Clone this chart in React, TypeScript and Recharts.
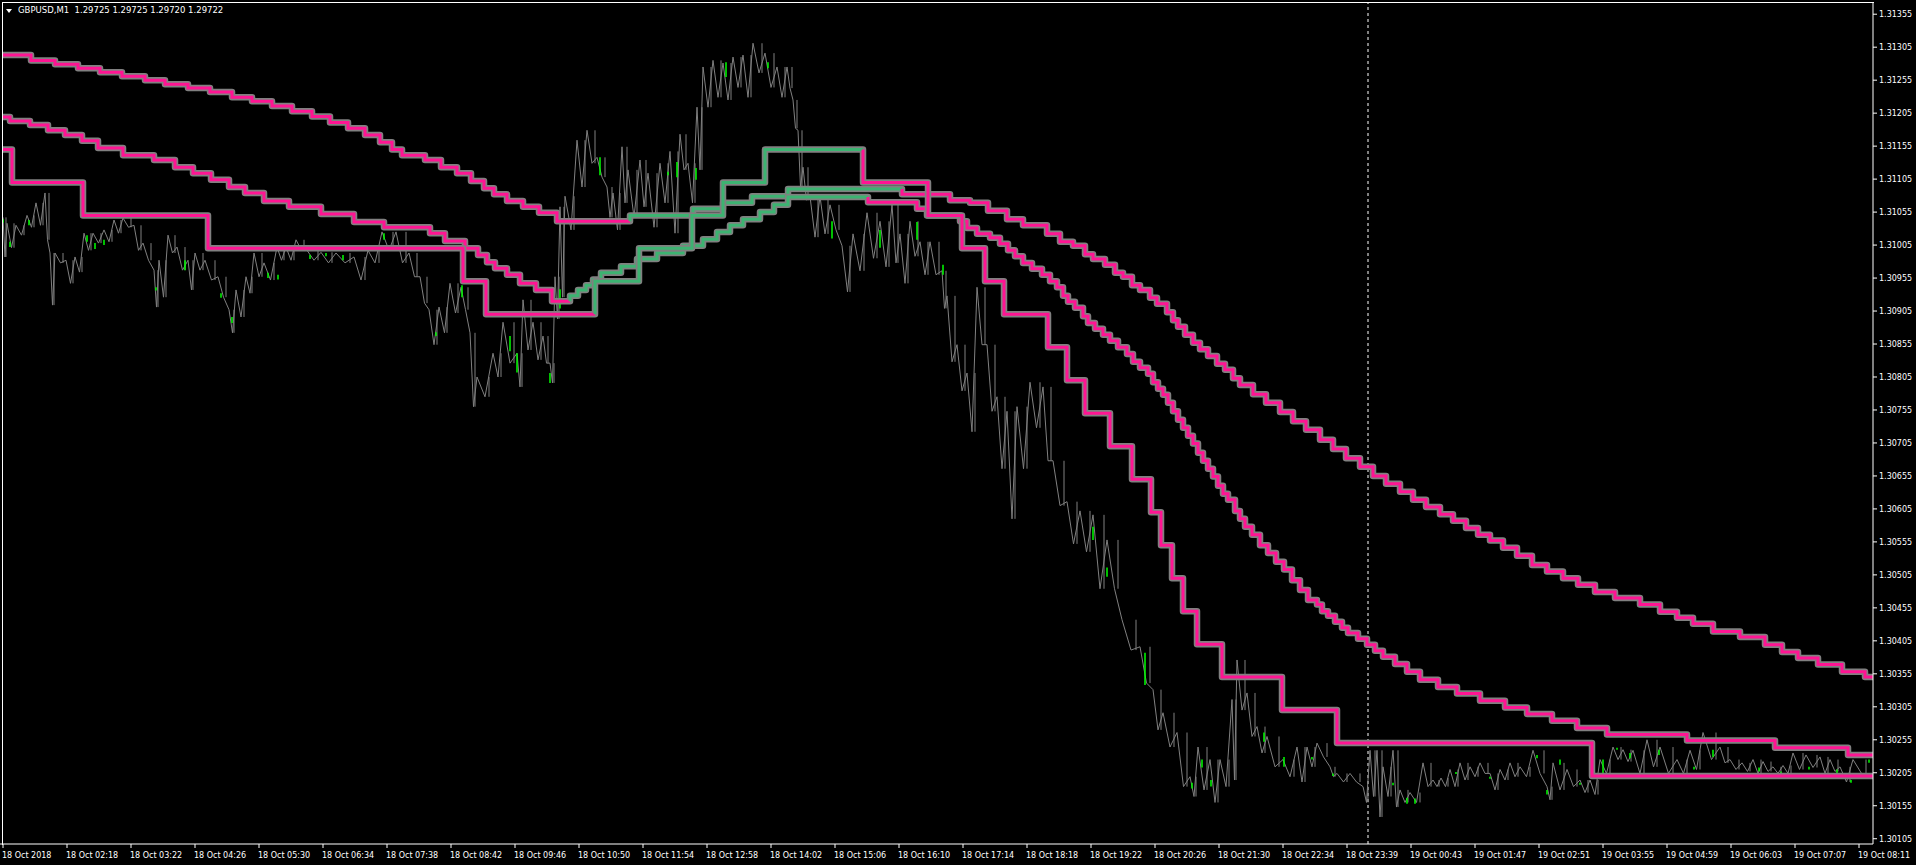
import React from 'react';
import { LineChart, Line, XAxis, YAxis, ReferenceLine } from 'recharts';

// GBPUSD M1, 18-19 Oct 2018. x = bar index (one pixel per M1 bar in the terminal)
const timeLabels = [
  '18 Oct 2018', '18 Oct 02:18', '18 Oct 03:22', '18 Oct 04:26', '18 Oct 05:30', '18 Oct 06:34',
  '18 Oct 07:38', '18 Oct 08:42', '18 Oct 09:46', '18 Oct 10:50', '18 Oct 11:54', '18 Oct 12:58',
  '18 Oct 14:02', '18 Oct 15:06', '18 Oct 16:10', '18 Oct 17:14', '18 Oct 18:18', '18 Oct 19:22',
  '18 Oct 20:26', '18 Oct 21:30', '18 Oct 22:34', '18 Oct 23:39', '19 Oct 00:43', '19 Oct 01:47',
  '19 Oct 02:51', '19 Oct 03:55', '19 Oct 04:59', '19 Oct 06:03', '19 Oct 07:07', '19 Oct 08:11',
];
const labelBars = [
  3, 67, 131, 195, 259, 323, 387, 451, 515, 579, 643, 707, 771, 835, 899,
  963, 1027, 1091, 1155, 1219, 1283, 1347, 1411, 1475, 1539, 1603, 1667, 1731, 1795, 1859,
];
const daySeparator = 1368; // 19 Oct 00:00

const priceTicks = [
  1.30105, 1.30155, 1.30205, 1.30255, 1.30305, 1.30355, 1.30405, 1.30455, 1.30505, 1.30555,
  1.30605, 1.30655, 1.30705, 1.30755, 1.30805, 1.30855, 1.30905, 1.30955, 1.31005, 1.31055,
  1.31105, 1.31155, 1.31205, 1.31255, 1.31305, 1.31355,
];

// price swings: [bar, high, low]
const priceAsia = [
  [3, 1.31047, 1.30987], [7, 1.31038, 1.31001], [16, 1.31035, 1.3102], [27, 1.3105, 1.31032],
  [36, 1.31069, 1.31035], [45, 1.31084, 1.31013], [50, 1.30993, 1.30914], [55, 1.30993, 1.30978],
  [66, 1.30982, 1.30947], [75, 1.30987, 1.30964], [84, 1.31023, 1.30997], [93, 1.31023, 1.31008],
  [104, 1.31028, 1.3101], [114, 1.31043, 1.31023], [123, 1.31046, 1.31032], [134, 1.31035, 1.30997],
  [143, 1.31008, 1.30982], [154, 1.30967, 1.30911], [159, 1.30982, 1.30926], [168, 1.3102, 1.30993],
  [177, 1.31002, 1.30967], [188, 1.30982, 1.30937], [195, 1.30993, 1.30967], [205, 1.30982, 1.30952],
  [218, 1.30957, 1.30926], [229, 1.30907, 1.30872], [236, 1.30937, 1.30896], [246, 1.30957, 1.30932],
  [254, 1.30993, 1.30957], [264, 1.30978, 1.30952], [277, 1.31002, 1.30982], [286, 1.31002, 1.30982],
  [296, 1.31013, 1.30997], [307, 1.30997, 1.30982], [321, 1.30994, 1.30978], [336, 1.30993, 1.30978],
  [354, 1.30987, 1.30952], [368, 1.30997, 1.30978], [382, 1.31025, 1.30997], [396, 1.31025, 1.30978],
  [409, 1.30993, 1.30957], [420, 1.30957, 1.30917], [429, 1.30907, 1.30854], [439, 1.30911, 1.30872],
  [450, 1.30947, 1.30902], [461, 1.30941, 1.30907],
];
const priceLondon = [
  [470, 1.30872, 1.3076], [477, 1.30805, 1.30775], [493, 1.30841, 1.30805], [503, 1.30888, 1.30826],
  [517, 1.30841, 1.3079], [523, 1.30922, 1.30846], [533, 1.30888, 1.30831], [543, 1.30867, 1.30826],
  [550, 1.30826, 1.30796], [555, 1.30957, 1.30893], [560, 1.31063, 1.30926], [565, 1.31079, 1.31028],
  [577, 1.31164, 1.31093], [587, 1.31179, 1.31129], [597, 1.31138, 1.31108], [607, 1.31093, 1.31047],
  [613, 1.31084, 1.31028], [622, 1.31154, 1.31069], [628, 1.31119, 1.31047], [640, 1.31134, 1.31063],
  [648, 1.31114, 1.31032], [660, 1.31129, 1.31069], [670, 1.31147, 1.31023], [680, 1.31173, 1.31119],
  [688, 1.31129, 1.31069], [697, 1.31214, 1.31119], [703, 1.31275, 1.31214], [713, 1.31285, 1.31229],
  [723, 1.31281, 1.31225], [733, 1.3129, 1.31244], [743, 1.31293, 1.31229], [753, 1.31311, 1.31266],
  [765, 1.31296, 1.31244], [777, 1.31275, 1.31229], [787, 1.31275, 1.31243], [793, 1.31225, 1.31182],
  [798, 1.31179, 1.31093],
];
const priceNewYork = [
  [803, 1.31123, 1.31073], [810, 1.31079, 1.31017], [820, 1.31079, 1.31022], [830, 1.31066, 1.31028],
  [842, 1.31004, 1.30934], [853, 1.31022, 1.30966], [867, 1.31054, 1.30985], [880, 1.31041, 1.30972],
  [892, 1.31066, 1.30978], [900, 1.31022, 1.30947], [910, 1.31041, 1.30988], [920, 1.3101, 1.3096],
  [930, 1.3101, 1.3096], [942, 1.30966, 1.30909], [947, 1.30928, 1.30828], [957, 1.30854, 1.30784],
  [967, 1.30811, 1.30722], [977, 1.30941, 1.30854], [987, 1.30854, 1.30753], [997, 1.30775, 1.30666],
  [1007, 1.30753, 1.3059], [1017, 1.3076, 1.30666], [1030, 1.30797, 1.30728], [1043, 1.3079, 1.30678],
  [1053, 1.30678, 1.3061], [1067, 1.30616, 1.30552], [1080, 1.30602, 1.3054], [1093, 1.30596, 1.30484],
  [1107, 1.30558, 1.30484], [1122, 1.30437, 1.30391], [1140, 1.30396, 1.30341], [1153, 1.30331, 1.3027],
  [1163, 1.30296, 1.30244], [1177, 1.30266, 1.30184], [1190, 1.30199, 1.30169], [1198, 1.30244, 1.30179],
  [1210, 1.30225, 1.3016], [1220, 1.30225, 1.30184], [1232, 1.30316, 1.30194],
];
const priceLate = [
  [1237, 1.30376, 1.303], [1247, 1.30326, 1.3026], [1257, 1.30275, 1.30235], [1267, 1.3026, 1.30214],
  [1283, 1.30225, 1.30199], [1297, 1.30244, 1.30191], [1307, 1.30244, 1.30214], [1317, 1.3025, 1.30229],
  [1330, 1.30214, 1.30199], [1337, 1.30204, 1.30191], [1350, 1.30204, 1.30191], [1363, 1.30184, 1.3016],
  [1370, 1.30239, 1.30169], [1377, 1.30239, 1.30138], [1383, 1.30214, 1.30169], [1393, 1.30239, 1.30153],
  [1400, 1.30179, 1.3016], [1410, 1.30175, 1.3016], [1423, 1.3022, 1.30184], [1433, 1.30194, 1.30184],
  [1441, 1.30197, 1.30184], [1450, 1.3021, 1.30184], [1460, 1.3022, 1.30194], [1470, 1.30214, 1.30199],
  [1480, 1.3022, 1.30204], [1490, 1.30204, 1.30179], [1500, 1.3021, 1.30194], [1510, 1.3022, 1.30199],
  [1520, 1.30214, 1.30199], [1533, 1.30239, 1.30204], [1547, 1.30184, 1.30164], [1553, 1.3022, 1.30179],
  [1567, 1.3021, 1.30184], [1580, 1.30194, 1.30175], [1590, 1.30194, 1.30172], [1600, 1.30225, 1.30204],
  [1613, 1.30244, 1.30225], [1623, 1.3024, 1.30222], [1633, 1.30239, 1.30204], [1647, 1.30255, 1.30214],
  [1660, 1.30244, 1.30204], [1677, 1.30225, 1.30204], [1690, 1.30239, 1.3021], [1703, 1.30266, 1.30225],
  [1720, 1.30244, 1.3022], [1730, 1.30225, 1.3021], [1742, 1.3022, 1.30207], [1753, 1.30225, 1.30204],
  [1763, 1.30222, 1.30207], [1773, 1.30214, 1.30204], [1783, 1.30216, 1.30204], [1793, 1.30235, 1.3021],
  [1806, 1.30232, 1.30213], [1820, 1.30229, 1.30204], [1830, 1.30225, 1.30207], [1840, 1.30214, 1.30191],
  [1853, 1.30225, 1.30204],
];

// bright up-bar flashes: [bar, high, low]
const upFlashes = [
  [3, 1.31044, 1.31039], [10, 1.3101, 1.31002], [29, 1.31043, 1.31035], [87, 1.3102, 1.3101],
  [95, 1.31008, 1.30999], [104, 1.31013, 1.31005], [156, 1.30941, 1.30936], [185, 1.30982, 1.30967],
  [221, 1.30932, 1.30925], [232, 1.30896, 1.30887], [268, 1.30963, 1.30955], [278, 1.3096, 1.30953],
  [310, 1.3099, 1.30984], [326, 1.30993, 1.30988], [343, 1.3099, 1.30982], [384, 1.31023, 1.31013],
  [436, 1.30873, 1.30867], [462, 1.30944, 1.30926], [510, 1.30867, 1.30844], [517, 1.30841, 1.30812],
  [550, 1.30811, 1.30796], [560, 1.30938, 1.30909], [600, 1.31138, 1.31111], [668, 1.31116, 1.31111],
  [677, 1.31131, 1.31108], [696, 1.31122, 1.31104], [726, 1.31282, 1.3126], [768, 1.31282, 1.31273],
  [832, 1.31041, 1.31015], [880, 1.31028, 1.31001], [917, 1.3104, 1.31013], [943, 1.30975, 1.3096],
  [1093, 1.30578, 1.30558], [1107, 1.30516, 1.30502], [1145, 1.30387, 1.30338], [1192, 1.3019, 1.30181],
  [1202, 1.30225, 1.30213], [1211, 1.30194, 1.30184], [1264, 1.30266, 1.30252], [1284, 1.30229, 1.30214],
  [1312, 1.30229, 1.30225], [1333, 1.30204, 1.302], [1393, 1.3019, 1.30186], [1407, 1.30167, 1.30158],
  [1415, 1.30166, 1.30158], [1456, 1.30206, 1.30203], [1490, 1.30199, 1.30196], [1537, 1.30232, 1.30227],
  [1547, 1.30179, 1.30172], [1560, 1.30225, 1.30217], [1580, 1.3019, 1.30187], [1603, 1.30225, 1.30204],
  [1617, 1.30243, 1.3024], [1630, 1.30235, 1.30227], [1659, 1.3024, 1.30232], [1694, 1.30214, 1.3021],
  [1713, 1.3024, 1.30229], [1759, 1.30213, 1.30207], [1781, 1.30207, 1.30203], [1809, 1.30214, 1.3021],
  [1837, 1.3021, 1.30204], [1851, 1.30194, 1.3019], [1869, 1.30225, 1.3022],
];

// stepped averages: [bar where level starts, level]
const slowMA = [
  [3, 1.31293], [31, 1.31285], [55, 1.31279], [78, 1.31273], [100, 1.31267], [122, 1.31261],
  [145, 1.31255], [165, 1.31249], [188, 1.31243], [210, 1.31237], [232, 1.31229], [252, 1.31223],
  [272, 1.31216], [292, 1.31208], [312, 1.312], [330, 1.31191], [348, 1.31182], [365, 1.31172],
  [380, 1.31161], [392, 1.3115], [402, 1.31141], [425, 1.31134], [441, 1.31123], [457, 1.31114],
  [471, 1.31102], [484, 1.31091], [494, 1.31082], [507, 1.31072], [523, 1.31063], [539, 1.31054],
  [557, 1.31041], [630, 1.3105], [693, 1.3106], [723, 1.31069], [752, 1.31079], [788, 1.3109],
  [902, 1.31082], [950, 1.31073], [970, 1.31069], [988, 1.31057], [1007, 1.31044], [1023, 1.31035],
  [1047, 1.31022], [1060, 1.3101], [1073, 1.31004], [1085, 1.30991], [1093, 1.30984], [1105, 1.30975],
  [1115, 1.30963], [1123, 1.30957], [1132, 1.30944], [1140, 1.30937], [1150, 1.30925], [1157, 1.30916],
  [1167, 1.30903], [1173, 1.30891], [1178, 1.30881], [1185, 1.30869], [1193, 1.30857], [1200, 1.30847],
  [1208, 1.30837], [1217, 1.30825], [1225, 1.30816], [1233, 1.30803], [1240, 1.30793], [1253, 1.30779],
  [1266, 1.30766], [1280, 1.30752], [1293, 1.30738], [1306, 1.30725], [1320, 1.3071], [1333, 1.30696],
  [1346, 1.30682], [1360, 1.30669], [1373, 1.30655], [1386, 1.30643], [1400, 1.30631], [1413, 1.30619],
  [1426, 1.30608], [1440, 1.30597], [1453, 1.30587], [1466, 1.30576], [1478, 1.30566], [1490, 1.30557],
  [1503, 1.30546], [1517, 1.30534], [1532, 1.3052], [1547, 1.3051], [1563, 1.305], [1578, 1.3049],
  [1595, 1.30479], [1615, 1.3047], [1640, 1.3046], [1660, 1.30449], [1677, 1.3044], [1693, 1.30431],
  [1713, 1.30419], [1740, 1.30411], [1765, 1.30399], [1782, 1.30388], [1798, 1.30379], [1818, 1.30369],
  [1842, 1.30358], [1865, 1.3035],
];
const slowRising = [[630, 902]];

const midMA = [
  [3, 1.31199], [10, 1.31193], [30, 1.31187], [48, 1.31179], [65, 1.31172], [82, 1.31163],
  [98, 1.31152], [123, 1.31141], [154, 1.31134], [175, 1.31123], [193, 1.31114], [211, 1.31104],
  [229, 1.31093], [245, 1.31084], [264, 1.31072], [289, 1.31063], [321, 1.31052], [354, 1.3104],
  [384, 1.31032], [430, 1.31023], [445, 1.31011], [465, 1.31], [478, 1.3099], [487, 1.30979],
  [495, 1.3097], [507, 1.3096], [520, 1.30947], [536, 1.30937], [552, 1.3092], [570, 1.30928],
  [578, 1.30937], [586, 1.30944], [593, 1.30953], [601, 1.30963], [621, 1.30973], [637, 1.30984],
  [657, 1.30993], [683, 1.31004], [703, 1.31014], [717, 1.31025], [730, 1.31035], [743, 1.31044],
  [760, 1.31055], [774, 1.31066], [788, 1.31078], [868, 1.3107], [917, 1.3106], [927, 1.3105],
  [960, 1.31041], [967, 1.31031], [977, 1.31022], [990, 1.31016], [1000, 1.31007], [1008, 1.30997],
  [1015, 1.30988], [1023, 1.30978], [1032, 1.30969], [1042, 1.3096], [1050, 1.3095], [1057, 1.30941],
  [1063, 1.30928], [1068, 1.30919], [1075, 1.3091], [1083, 1.30897], [1088, 1.30887], [1095, 1.30878],
  [1103, 1.30869], [1110, 1.3086], [1118, 1.3085], [1127, 1.3084], [1133, 1.30828], [1140, 1.30819],
  [1148, 1.3081], [1153, 1.30797], [1158, 1.30787], [1163, 1.30778], [1168, 1.30766], [1173, 1.30753],
  [1178, 1.3074], [1183, 1.30728], [1188, 1.30716], [1193, 1.30704], [1198, 1.3069], [1203, 1.30678],
  [1208, 1.30666], [1213, 1.30654], [1218, 1.3064], [1223, 1.30628], [1228, 1.30619], [1235, 1.30602],
  [1240, 1.3059], [1245, 1.30578], [1252, 1.30566], [1260, 1.3055], [1268, 1.30538], [1276, 1.30525],
  [1284, 1.30513], [1292, 1.30497], [1300, 1.30482], [1308, 1.30467], [1317, 1.3046], [1322, 1.3045],
  [1328, 1.30443], [1335, 1.30434], [1342, 1.30425], [1348, 1.30417], [1358, 1.30408], [1367, 1.30399],
  [1375, 1.3039], [1383, 1.30381], [1395, 1.3037], [1407, 1.30358], [1420, 1.30346], [1438, 1.30335],
  [1457, 1.30325], [1480, 1.30314], [1505, 1.30304], [1527, 1.30294], [1552, 1.30284], [1577, 1.30273],
  [1607, 1.30263], [1687, 1.30254], [1775, 1.30243], [1848, 1.30232],
];
const midRising = [[570, 868]];

const fastMA = [
  [3, 1.3115], [12, 1.311], [83, 1.3105], [208, 1.31], [463, 1.3095], [486, 1.309],
  [595, 1.3095], [639, 1.31], [692, 1.3105], [723, 1.311], [765, 1.3115], [863, 1.311],
  [928, 1.3105], [962, 1.31], [985, 1.3095], [1004, 1.309], [1048, 1.3085], [1067, 1.308],
  [1085, 1.3075], [1110, 1.307], [1132, 1.3065], [1151, 1.306], [1161, 1.3055], [1172, 1.305],
  [1183, 1.3045], [1197, 1.304], [1222, 1.3035], [1282, 1.303], [1337, 1.3025], [1592, 1.302],
];
const fastRising = [[595, 863]];

const LAST_BAR = 1873;
const PINK = '#ff1493';
const GREEN = '#3cb371';
const OUTLINE = '#808080';
const PRICE_GREY = '#808080';
const UP_GREEN = '#00ff00';

type Pt = { x: number; y: number | null };

const priceSwings = [...priceAsia, ...priceLondon, ...priceNewYork, ...priceLate];

// zigzag through each swing: high at its start, low half way to the next one
function swingPoints(rows: number[][]): Pt[] {
  const pts: Pt[] = [];
  rows.forEach(([bar, hi, lo], i) => {
    const next = i < rows.length - 1 ? rows[i + 1][0] : LAST_BAR - 3;
    pts.push({ x: bar, y: hi });
    pts.push({ x: (bar + next) / 2, y: lo });
  });
  return pts;
}

// high-low range stroke of each swing, three quarters of the way through it
function rangePoints(rows: number[][]): Pt[] {
  const pts: Pt[] = [];
  rows.forEach(([bar, hi, lo], i) => {
    const next = i < rows.length - 1 ? rows[i + 1][0] : LAST_BAR - 3;
    const x = Math.round(bar + (next - bar) * 0.75);
    pts.push({ x, y: lo }, { x, y: hi }, { x, y: null });
  });
  return pts;
}

function flashPoints(rows: number[][]): Pt[] {
  const pts: Pt[] = [];
  rows.forEach(([bar, hi, lo]) => {
    pts.push({ x: bar, y: hi }, { x: bar, y: lo }, { x: bar, y: null });
  });
  return pts;
}

function stepPoints(steps: number[][]): Pt[] {
  const pts: Pt[] = [];
  steps.forEach(([x, v], i) => {
    if (i > 0) pts.push({ x, y: steps[i - 1][1] });
    pts.push({ x, y: v });
  });
  pts.push({ x: LAST_BAR, y: steps[steps.length - 1][1] });
  return pts;
}

// split a stepped line into pink (falling) and green (rising) runs
function stepRuns(steps: number[][], rising: number[][]) {
  const runs: { color: string; pts: Pt[] }[] = [];
  let cur: { color: string; pts: Pt[] } | null = null;
  steps.forEach(([x, v], i) => {
    const up = rising.some(([a, b]) => x >= a && x < b);
    const color = up ? GREEN : PINK;
    if (!cur || cur.color !== color) {
      if (cur) cur.pts.push({ x, y: steps[i - 1][1] });
      cur = { color, pts: [] };
      runs.push(cur);
    }
    if (i > 0) cur.pts.push({ x, y: steps[i - 1][1] });
    cur.pts.push({ x, y: v });
  });
  if (cur) (cur as { pts: Pt[] }).pts.push({ x: LAST_BAR, y: steps[steps.length - 1][1] });
  return runs;
}

const averages = [
  { name: 'slow', steps: slowMA, rising: slowRising },
  { name: 'mid', steps: midMA, rising: midRising },
  { name: 'fast', steps: fastMA, rising: fastRising },
];

const TimeTick = (props: any) => {
  const { x, y, payload } = props;
  const idx = labelBars.indexOf(payload.value);
  return (
    <text x={x - 1} y={y} dy={8} fill="#ffffff" fontSize={8} textAnchor="start">
      {idx >= 0 ? timeLabels[idx] : ''}
    </text>
  );
};

export default function App() {
  const pricePts = swingPoints(priceSwings);
  const rangePts = rangePoints(priceSwings);
  const flashPts = flashPoints(upFlashes);

  return (
    <div
      style={{
        position: 'absolute',
        left: 0,
        top: 0,
        width: 1916,
        height: 865,
        background: '#000',
        overflow: 'hidden',
        fontFamily: '"DejaVu Sans", Verdana, sans-serif',
      }}
    >
      <LineChart width={1916} height={865} margin={{ top: 3, right: 0, bottom: 0, left: 0 }}>
        <XAxis
          type="number"
          dataKey="x"
          domain={[0, LAST_BAR]}
          ticks={labelBars}
          interval={0}
          allowDataOverflow
          height={21}
          stroke="#ffffff"
          tickSize={4}
          tickMargin={2}
          tick={<TimeTick />}
        />
        <YAxis
          orientation="right"
          type="number"
          domain={[1.30097, 1.31372]}
          ticks={priceTicks}
          interval={0}
          allowDataOverflow
          width={43}
          stroke="#ffffff"
          tickSize={4}
          tickMargin={2}
          tick={{ fill: '#ffffff', fontSize: 8 }}
          tickFormatter={(v: number) => v.toFixed(5)}
        />
        <ReferenceLine x={daySeparator} stroke="#ffffff" strokeDasharray="3 3" strokeWidth={1} />
        <Line
          data={pricePts}
          dataKey="y"
          stroke={PRICE_GREY}
          strokeWidth={1}
          dot={false}
          activeDot={false}
          isAnimationActive={false}
        />
        <Line
          data={rangePts}
          dataKey="y"
          stroke={PRICE_GREY}
          strokeWidth={1}
          dot={false}
          activeDot={false}
          isAnimationActive={false}
        />
        <Line
          data={flashPts}
          dataKey="y"
          stroke={UP_GREEN}
          strokeWidth={1.5}
          dot={false}
          activeDot={false}
          isAnimationActive={false}
        />
        {averages.map((ma) => [
          <Line
            key={ma.name + '-outline'}
            data={stepPoints(ma.steps)}
            dataKey="y"
            stroke={OUTLINE}
            strokeWidth={6.5}
            strokeLinejoin="round"
            dot={false}
            activeDot={false}
            isAnimationActive={false}
          />,
          ...stepRuns(ma.steps, ma.rising).map((run, i) => (
            <Line
              key={ma.name + '-run-' + i}
              data={run.pts}
              dataKey="y"
              stroke={run.color}
              strokeWidth={3}
              strokeLinejoin="miter"
              dot={false}
              activeDot={false}
              isAnimationActive={false}
            />
          )),
        ])}
      </LineChart>
      <div
        style={{
          position: 'absolute',
          left: 2,
          top: 2,
          width: 1871,
          height: 842,
          borderTop: '1px solid #fff',
          borderLeft: '1px solid #fff',
          pointerEvents: 'none',
        }}
      />
      <div
        style={{
          position: 'absolute',
          left: 6,
          top: 9,
          width: 0,
          height: 0,
          borderLeft: '3.5px solid transparent',
          borderRight: '3.5px solid transparent',
          borderTop: '4px solid #fff',
        }}
      />
      <div
        style={{
          position: 'absolute',
          left: 18,
          top: 6,
          color: '#fff',
          fontSize: 8.5,
          lineHeight: 1,
          whiteSpace: 'pre',
        }}
      >
        GBPUSD,M1  1.29725 1.29725 1.29720 1.29722
      </div>
    </div>
  );
}
